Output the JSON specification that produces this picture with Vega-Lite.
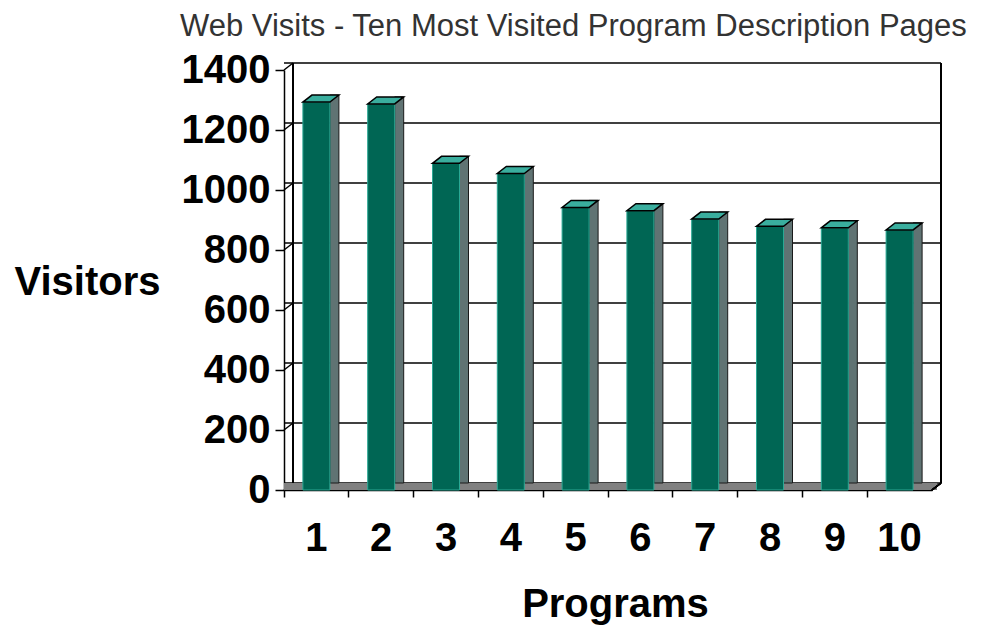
{
  "$schema": "https://vega.github.io/schema/vega-lite/v6.json",
  "autosize": {"type": "none"},
  "padding": {"left": 284, "top": 70, "right": 55, "bottom": 136},
  "width": 648,
  "height": 420,
  "background": "white",
  "title": {
    "text": "Web Visits - Ten Most Visited Program Description Pages",
    "font": "Liberation Sans",
    "fontSize": 31,
    "fontWeight": "normal",
    "color": "#333333",
    "anchor": "start",
    "frame": "group",
    "dx": -104,
    "dy": -3
  },
  "datasets": {
    "bars": [
      {"program": 1, "visitors": 1293},
      {"program": 2, "visitors": 1287},
      {"program": 3, "visitors": 1089},
      {"program": 4, "visitors": 1055},
      {"program": 5, "visitors": 942},
      {"program": 6, "visitors": 931},
      {"program": 7, "visitors": 903},
      {"program": 8, "visitors": 879},
      {"program": 9, "visitors": 874},
      {"program": 10, "visitors": 867}
    ],
    "grid": [
      {"v": 0}, {"v": 200}, {"v": 400}, {"v": 600}, {"v": 800},
      {"v": 1000}, {"v": 1200}, {"v": 1400}
    ]
  },
  "config": {
    "view": {"stroke": null},
    "font": "Liberation Sans"
  },
  "layer": [
    {
      "data": {"name": "grid"},
      "mark": {"type": "rule", "color": "#000000", "strokeWidth": 1.5, "xOffset": 9, "x2Offset": 9, "yOffset": -7},
      "encoding": {
        "y": {"field": "v", "type": "quantitative", "scale": {"domain": [0, 1400], "nice": false},
          "axis": {
            "values": [0, 200, 400, 600, 800, 1000, 1200, 1400],
            "format": "d",
            "grid": false,
            "labelFont": "Liberation Sans", "labelFontSize": 40, "labelFontWeight": "bold", "labelColor": "#000000",
            "labelPadding": 5,
            "tickColor": "#000000", "tickSize": 9, "tickWidth": 1.5,
            "domainColor": "#000000", "domainWidth": 1.5,
            "title": "Visitors",
            "titleFont": "Liberation Sans", "titleFontSize": 40, "titleFontWeight": "bold", "titleColor": "#000000",
            "titleAngle": 0, "titleAlign": "center", "titleBaseline": "alphabetic",
            "titleX": -197, "titleY": 224
          }
        }
      }
    },
    {
      "data": {"name": "grid"},
      "mark": {"type": "point", "shape": "M0,0L9,-7", "size": 4, "filled": false, "stroke": "#000000", "strokeWidth": 1.5, "opacity": 1},
      "encoding": {
        "x": {"datum": 1, "type": "ordinal", "bandPosition": 0},
        "y": {"field": "v", "type": "quantitative"}
      }
    },
    {
      "data": {"name": "grid"},
      "mark": {"type": "rule", "color": "#000000", "strokeWidth": 1.5, "xOffset": 9, "yOffset": -7, "y2Offset": -7},
      "encoding": {
        "x": {"datum": 1, "type": "ordinal", "bandPosition": 0},
        "y": {"datum": 0, "type": "quantitative"},
        "y2": {"datum": 1400}
      }
    },
    {
      "data": {"name": "grid"},
      "mark": {"type": "rule", "color": "#000000", "strokeWidth": 2, "xOffset": 9, "yOffset": -7, "y2Offset": -7},
      "encoding": {
        "x": {"datum": 10, "type": "ordinal", "bandPosition": 1},
        "y": {"datum": 0, "type": "quantitative"},
        "y2": {"datum": 1400}
      }
    },
    {
      "data": {"name": "grid"},
      "mark": {"type": "rule", "color": "#808080", "strokeWidth": 7, "xOffset": 4.5, "x2Offset": 4.5, "yOffset": -3.5},
      "encoding": {
        "y": {"datum": 0, "type": "quantitative"}
      }
    },
    {
      "data": {"name": "grid"},
      "mark": {"type": "point", "shape": "M0,0L9,-7", "size": 4, "filled": false, "stroke": "#000000", "strokeWidth": 1.5, "opacity": 1},
      "encoding": {
        "x": {"datum": 10, "type": "ordinal", "bandPosition": 1},
        "y": {"datum": 0, "type": "quantitative"}
      }
    },
    {
      "data": {"name": "bars"},
      "mark": {"type": "bar", "width": 9, "xOffset": 18, "yOffset": -7, "y2Offset": -7, "fill": "#607373", "stroke": "#1a1a1a", "strokeWidth": 1},
      "encoding": {
        "x": {"field": "program", "type": "ordinal"},
        "y": {"field": "visitors", "type": "quantitative"}
      }
    },
    {
      "data": {"name": "bars"},
      "mark": {"type": "bar", "width": 27, "fill": "#006654", "stroke": "#2aa894", "strokeWidth": 1},
      "encoding": {
        "x": {"field": "program", "type": "ordinal",
          "axis": {
            "bandPosition": 0, "labelOffset": 0, "labelAlign": "center", "labelAngle": 0,
            "labelFont": "Liberation Sans", "labelFontSize": 40, "labelFontWeight": "bold", "labelColor": "#000000",
            "labelBaseline": "alphabetic", "labelPadding": 53,
            "tickColor": "#000000", "tickSize": 7, "tickWidth": 1.5,
            "domainColor": "#000000", "domainWidth": 1.5,
            "title": "Programs",
            "titleFont": "Liberation Sans", "titleFontSize": 40, "titleFontWeight": "bold", "titleColor": "#000000",
            "titleAlign": "center", "titleBaseline": "alphabetic", "titleX": 331, "titleY": 126
          }
        },
        "y": {"field": "visitors", "type": "quantitative"}
      }
    },
    {
      "data": {"name": "bars"},
      "mark": {"type": "point", "shape": "M-13.5,0L13.5,0L22.5,-7L-4.5,-7Z", "size": 4, "filled": true, "fill": "#3aae9e", "stroke": "#000000", "strokeWidth": 1.5, "opacity": 1},
      "encoding": {
        "x": {"field": "program", "type": "ordinal"},
        "y": {"field": "visitors", "type": "quantitative"}
      }
    }
  ]
}
